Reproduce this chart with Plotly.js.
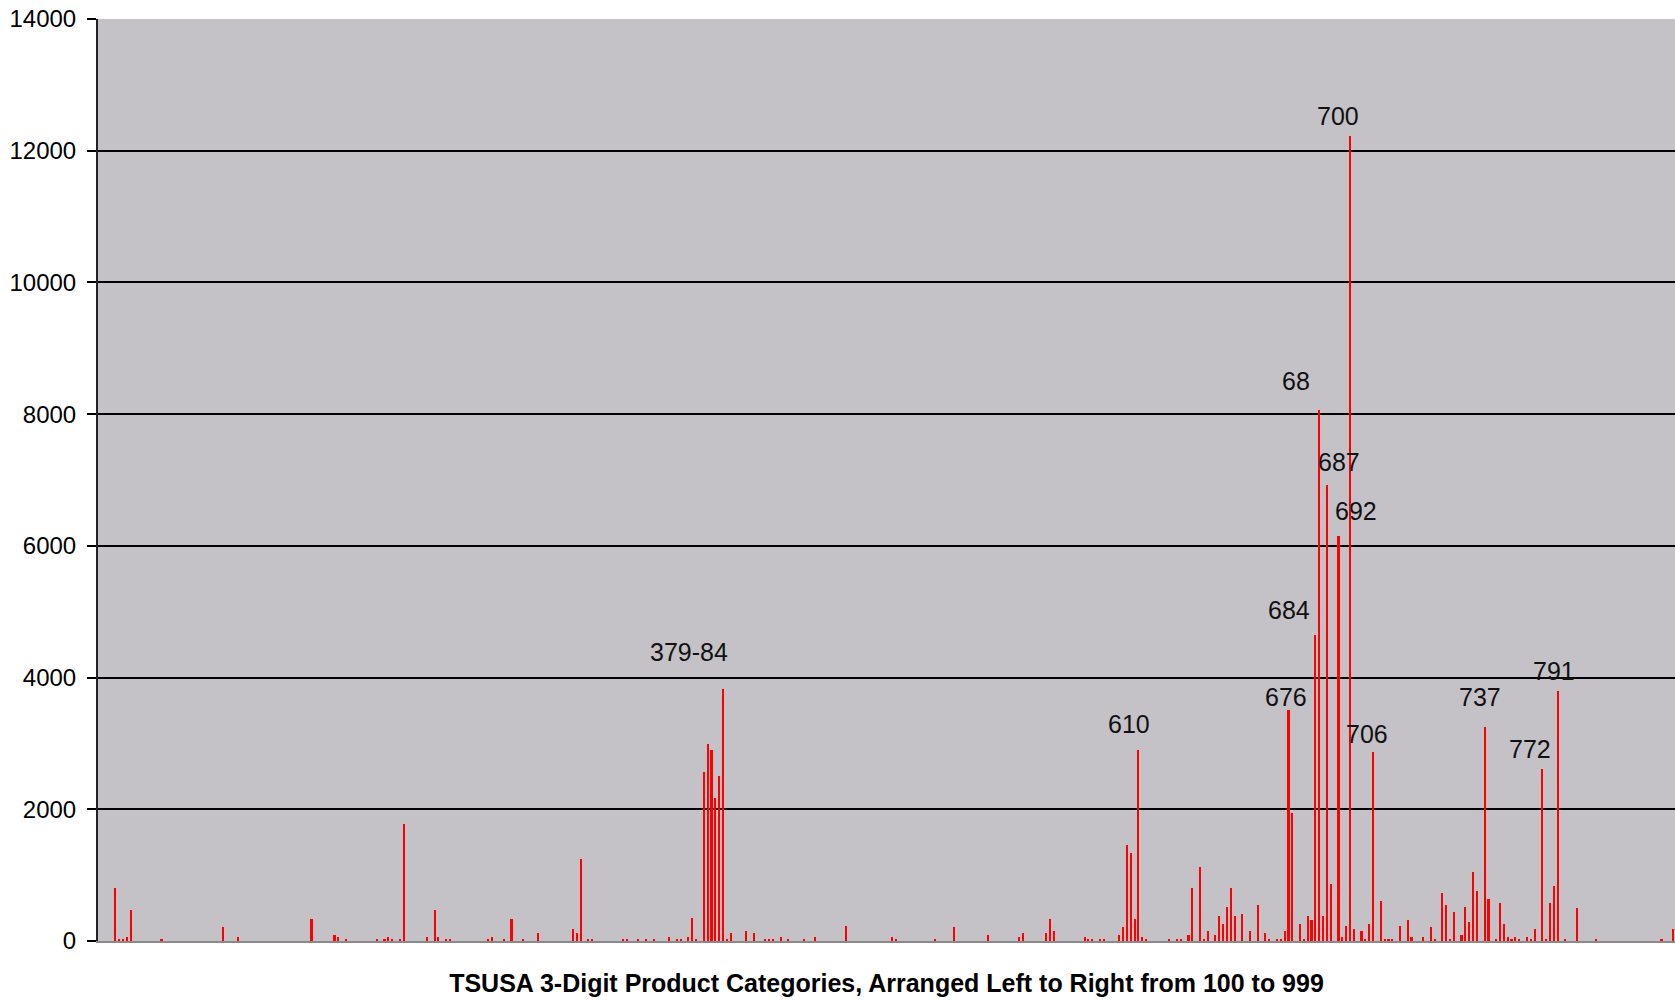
<!DOCTYPE html>
<html>
<head>
<meta charset="utf-8">
<script src="https://cdn.plot.ly/plotly-3.0.1.min.js"></script>
<style>html,body{margin:0;padding:0;background:#fff;}#chart{width:1675px;height:1002px;}</style>
</head>
<body>
<div id="chart"></div>
<script>
// Category order position (left to right, TSUSA 100 → 999) and value of each bar
const categoryPos = [4,5,6,7,8,16,32,36,55,61,62,64,72,74,75,76,78,79,85,87,88,90,91,101,102,105,107,110,114,123,124,125,127,128,136,137,140,142,144,148,150,151,153,154,155,157,158,159,160,161,162,163,164,168,170,173,174,175,177,179,183,186,194,206,207,217,222,231,239,240,246,247,248,256,257,258,260,261,265,266,267,268,269,270,271,272,278,280,281,283,284,286,287,288,290,291,292,293,294,295,297,299,301,303,304,306,307,308,309,310,312,313,314,315,316,317,318,319,320,322,323,324,325,326,328,329,330,331,333,334,335,336,338,340,341,344,346,347,349,350,351,352,354,355,356,357,358,360,361,363,364,365,366,367,368,369,371,372,373,375,376,377,378,379,381,384,389,406,409];
const values = [810,35,35,65,467,35,208,65,330,90,65,35,35,35,65,35,35,1773,65,467,65,35,35,35,65,35,330,35,117,178,117,1246,35,35,35,35,35,35,35,65,35,35,65,355,35,2563,2985,2904,2174,2498,3829,35,117,152,117,35,35,35,65,35,35,65,233,65,35,35,208,91,65,117,117,330,152,65,35,35,35,35,91,208,1455,1333,330,2904,65,35,35,35,35,91,810,1130,35,152,91,380,263,521,810,380,405,152,552,117,35,35,35,152,3504,1941,263,35,380,319,4640,8063,380,6927,871,6149,65,233,12216,178,152,35,263,2871,613,35,35,35,233,319,65,65,208,35,725,552,35,436,91,521,289,1044,755,3245,638,35,582,263,65,35,65,35,65,35,178,2612,35,582,841,3796,35,497,35,35,178];

// Labelled peaks: label text and the category position of the bar it names
const labelText = ['379-84','610','676','684','68','687','692','700','706','737','772','791'];
const labelPos  = [162,270,309,316,317,319,322,325,331,360,375,379];

const yTicks = [0,2000,4000,6000,8000,10000,12000,14000];
const xTitle = 'TSUSA 3-Digit Product Categories, Arranged Left to Right from 100 to 999';

// label offsets from the bar top (pixels)
const labelShift = {
  '379-84':[-34,37], '610':[-9,26], '676':[-2,13], '684':[-26,25], '68':[-23,29],
  '687':[12,23], '692':[18,25], '700':[-12,20], '706':[-6,18], '737':[-5,30],
  '772':[-12,20], '791':[-4,20]
};

const annotations = labelText.map((t,i)=>{
  const idx = categoryPos.indexOf(labelPos[i]);
  return {
    x: labelPos[i], y: values[idx], xref:'x', yref:'y',
    text: t, showarrow:false, xanchor:'center', yanchor:'middle',
    xshift: labelShift[t][0], yshift: labelShift[t][1],
    font:{family:'Liberation Sans, Arial, sans-serif', size:25, color:'#111'}
  };
});

const trace = {
  type:'bar', x: categoryPos, y: values, width:0.55,
  marker:{color:'#ff0000', line:{width:0}},
  hoverinfo:'x+y'
};
const gridTrace = {type:'scatter', x:[], y:[], yaxis:'y2', showlegend:false, hoverinfo:'skip'};

const layout = {
  width:1675, height:1002,
  margin:{l:98, r:0, t:19, b:61, pad:0},
  paper_bgcolor:'#ffffff', plot_bgcolor:'#c4c2c7',
  showlegend:false, bargap:0,
  font:{family:'Liberation Sans, Arial, sans-serif', color:'#000'},
  xaxis:{
    range:[-0.5, 409.5], showticklabels:false, ticks:'', showgrid:false, zeroline:false,
    showline:true, linecolor:'#8a8a8a', linewidth:2,
    title:{text:'<b>'+xTitle+'</b>', standoff:32,
      font:{family:'Liberation Sans, Arial, sans-serif', size:25, color:'#000'}}
  },
  yaxis:{
    range:[0,14000], tickvals:yTicks, ticktext:yTicks.map(String),
    ticks:'outside', ticklen:9, tickwidth:2, tickcolor:'#000', ticklabelstandoff:6,
    showline:true, linecolor:'#222', linewidth:2, showgrid:false, zeroline:false,
    tickfont:{family:'Liberation Sans, Arial, sans-serif', size:24, color:'#000'}
  },
  yaxis2:{
    overlaying:'y', range:[0,14000], tickvals:yTicks.slice(1,-1), showticklabels:false,
    ticks:'', showgrid:true, gridcolor:'#000', gridwidth:2, zeroline:false, showline:false
  },
  annotations: annotations
};

Plotly.newPlot('chart', [trace, gridTrace], layout, {displayModeBar:false, staticPlot:true});
</script>
</body>
</html>
